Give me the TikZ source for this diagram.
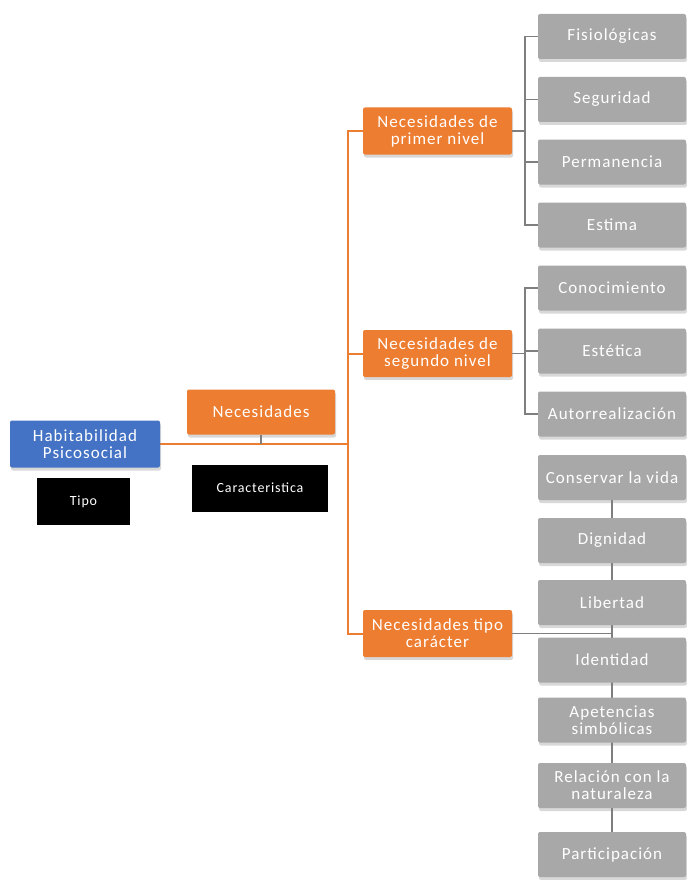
\documentclass[tikz,border=0pt]{standalone}
\usepackage{fontspec}
\setmainfont{Carlito}
\newfontfamily\boxfont[LetterSpace=6]{Carlito}
\usetikzlibrary{shadows,backgrounds}
\definecolor{orangeC}{HTML}{ED7D31}
\definecolor{blueC}{HTML}{4472C4}
\definecolor{grayC}{HTML}{A8A8A8}
\definecolor{lineG}{HTML}{7F7F7F}
\begin{document}
\begin{tikzpicture}[x=1pt,y=-1pt,
  basebox/.style={rounded corners=2pt, text=white, align=center, inner sep=1pt,
    font=\boxfont\fontsize{17}{17}\selectfont,
    drop shadow={opacity=0.3, shadow xshift=1pt, shadow yshift=-3pt}},
  obox/.style={basebox, fill=orangeC, minimum width=149pt, minimum height=47pt},
  bbox/.style={basebox, fill=blueC, minimum width=150pt, minimum height=47pt},
  gbox/.style={basebox, fill=grayC, minimum width=148pt, minimum height=45pt},
  kbox/.style={fill=black, text=white, font=\boxfont\fontsize{14}{15}\selectfont, minimum height=47pt},
  oline/.style={draw=orangeC, line width=2pt},
  gline/.style={draw=lineG, line width=1.5pt}]
\useasboundingbox (0,0) rectangle (687,880);

\node[bbox] (hab) at (85,444) {Habitabilidad\\Psicosocial};
\node[kbox, minimum width=93pt] (tipo) at (83.5,501.5) {Tipo};
\node[obox, minimum width=148pt, minimum height=45pt] (nec) at (261,412) {Necesidades};
\node[kbox, minimum width=136pt] (car) at (260,488) {Caracteristica};

\node[obox] (n1) at (437.5,131) {Necesidades de\\primer nivel};
\node[obox] (n2) at (437.5,353.5) {Necesidades de\\segundo nivel};
\node[obox] (n3) at (437.5,633.5) {Necesidades tipo\\carácter};

\node[gbox] (fis) at (612,36.5) {Fisiológicas};
\node[gbox] (seg) at (612,99.5) {Seguridad};
\node[gbox] (per) at (612,162) {Permanencia};
\node[gbox] (est) at (612,225) {Estima};
\node[gbox] (con) at (612,288) {Conocimiento};
\node[gbox] (ets) at (612,351) {Estética};
\node[gbox] (aut) at (612,414) {Autorrealización};
\node[gbox] (cv) at (612,477.5) {Conservar la vida};
\node[gbox] (dig) at (612,540.5) {Dignidad};
\node[gbox] (lib) at (612,602.5) {Libertad};
\node[gbox] (ide) at (612,660) {Identidad};
\node[gbox] (ape) at (612,720) {Apetencias\\simbólicas};
\node[gbox] (rel) at (612,785.5) {Relación con la\\naturaleza};
\node[gbox] (par) at (612,854.5) {Participación};

\coordinate (j) at (348,444);
\coordinate (k) at (525,0);

\begin{scope}[on background layer]
  \fill[white] (0,0) rectangle (687,880);
  \draw[oline] (hab.east) -- (j);
  \draw[gline] (nec.south) -- (nec.south |- j);
  \draw[oline] (n1.west) -| (j) |- (n3.west);
  \draw[oline] (n2.west) -- (n2.west -| j);

  \draw[gline] (n1.east) -- (n1.east -| k);
  \draw[gline] (fis.west) -| (k |- est) -- (est.west);
  \draw[gline] (seg.west) -- (seg.west -| k);
  \draw[gline] (per.west) -- (per.west -| k);

  \draw[gline] (n2.east) -- (n2.east -| k);
  \draw[gline] (con.west) -| (k |- aut) -- (aut.west);
  \draw[gline] (ets.west) -- (ets.west -| k);

  \draw[gline] (n3.east) -- (n3.east -| cv);
  \draw[gline] (cv) -- (par);
\end{scope}
\end{tikzpicture}
\end{document}
